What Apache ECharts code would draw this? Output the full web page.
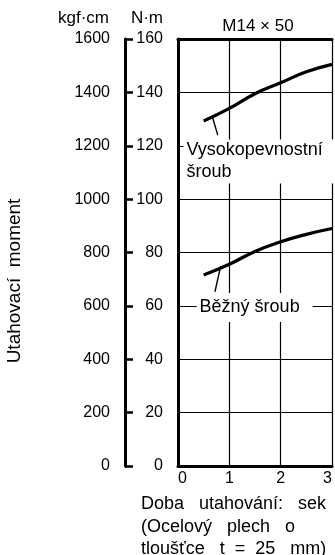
<!DOCTYPE html>
<html>
<head>
<meta charset="utf-8">
<script src="https://cdn.jsdelivr.net/npm/echarts@6/dist/echarts.min.js"></script>
<style>
  html, body { margin: 0; padding: 0; background: #fff; }
  #chart { width: 335px; height: 555px; }
</style>
</head>
<body>
<div id="chart"></div>
<script>
const FONT = '"Liberation Sans", Arial, Helvetica, sans-serif';

// Tightening time (s) and torque (N·m) of an M14 × 50 bolt
const timeSec = [0.5, 1, 1.5, 2, 2.5, 3];
const highStrengthNm = [129.3, 134.0, 139.5, 143.6, 147.7, 150.5];
const ordinaryNm = [71.6, 75.6, 80.4, 84.0, 86.8, 89.0];

// Axis ticks
const timeTicks = [0, 1, 2, 3];
const nmTicks = [0, 20, 40, 60, 80, 100, 120, 140, 160];
const kgfTicks = [0, 200, 400, 600, 800, 1000, 1200, 1400, 1600];

// Curve labels: anchor (time, N·m) and leader line from curve to label
const highLabel = 'Vysokopevnostní\nšroub';
const highLabelAt = [0.105, 114.1];
const highLeader = [[0.67, 130.8], [0.775, 124.0]];
const ordinaryLabel = 'Běžný šroub';
const ordinaryLabelAt = [0.362, 59.4];
const ordinaryLeader = [[0.83, 74.8], [0.72, 65.3]];

const pairs = (xs, ys) => xs.map((x, i) => [x, ys[i]]);
const step = t => t[1] - t[0];
const plain = v => String(v);
const black = '#000';

const chart = echarts.init(document.getElementById('chart'), null, { renderer: 'canvas' });

chart.setOption({
  animation: false,
  backgroundColor: '#fff',
  textStyle: { fontFamily: FONT, color: black },
  grid: { left: 178, top: 39, right: 0, bottom: 89, containLabel: false },
  xAxis: [
    {
      type: 'value',
      min: timeTicks[0], max: timeTicks[timeTicks.length - 1], interval: step(timeTicks),
      axisLine: { onZero: false, lineStyle: { color: black, width: 3 } },
      axisTick: { show: false },
      axisLabel: {
        color: black, fontSize: 16, fontFamily: FONT, margin: 5,
        alignMinLabel: 'left', alignMaxLabel: 'right', formatter: plain
      },
      splitLine: { show: true, lineStyle: { color: black, width: 1.2 } }
    },
    {
      type: 'value', position: 'top',
      min: timeTicks[0], max: timeTicks[timeTicks.length - 1], interval: step(timeTicks),
      axisLine: { show: true, onZero: false, lineStyle: { color: black, width: 3 } },
      axisTick: { show: false }, axisLabel: { show: false }, splitLine: { show: false }
    }
  ],
  yAxis: [
    {
      type: 'value', position: 'left',
      min: nmTicks[0], max: nmTicks[nmTicks.length - 1], interval: step(nmTicks),
      axisLine: { show: true, onZero: false, lineStyle: { color: black, width: 3 } },
      axisTick: { show: false },
      axisLabel: { color: black, fontSize: 16, fontFamily: FONT, margin: 15, formatter: plain },
      splitLine: { show: true, lineStyle: { color: black, width: 1.2 } }
    },
    {
      type: 'value', position: 'left', offset: 53,
      min: kgfTicks[0], max: kgfTicks[kgfTicks.length - 1], interval: step(kgfTicks),
      axisLine: { show: true, onZero: false, lineStyle: { color: black, width: 3 } },
      axisTick: { show: true, inside: true, length: 8, lineStyle: { color: black, width: 2.5 } },
      axisLabel: { color: black, fontSize: 16, fontFamily: FONT, margin: 15, formatter: plain },
      splitLine: { show: false }
    }
  ],
  series: [
    {
      name: 'Vysokopevnostní šroub', type: 'line', yAxisIndex: 0,
      data: pairs(timeSec, highStrengthNm), smooth: true, symbol: 'none',
      lineStyle: { color: black, width: 3.2 }, z: 3
    },
    {
      name: 'Běžný šroub', type: 'line', yAxisIndex: 0,
      data: pairs(timeSec, ordinaryNm), smooth: true, symbol: 'none',
      lineStyle: { color: black, width: 3.2 }, z: 3
    },
    {
      type: 'line', data: highLeader, symbol: 'none',
      lineStyle: { color: black, width: 1.4 }, z: 3
    },
    {
      type: 'line', data: ordinaryLeader, symbol: 'none',
      lineStyle: { color: black, width: 1.4 }, z: 3
    },
    {
      type: 'scatter', symbolSize: 0, z: 4,
      itemStyle: { color: black, opacity: 1 },
      data: [
        { value: highLabelAt, label: { formatter: highLabel, lineHeight: 22, padding: [0, 16, 0, 3] } },
        { value: ordinaryLabelAt, label: { formatter: ordinaryLabel, lineHeight: 21, padding: [4, 13, 4, 3] } }
      ],
      label: {
        show: true, position: 'right', distance: 0,
        align: 'left', verticalAlign: 'middle',
        color: black, opacity: 1, textBorderWidth: 0,
        fontSize: 18, fontFamily: FONT,
        backgroundColor: '#fff'
      },
      emphasis: { disabled: true },
      silent: true
    }
  ],
  graphic: [
    {
      type: 'text', x: 258, y: 26,
      style: { text: 'M14 × 50', fontSize: 17, fontFamily: FONT, fill: black, align: 'center', verticalAlign: 'middle' }
    },
    {
      type: 'text', x: 109, y: 18,
      style: { text: 'kgf·cm', fontSize: 17, fontFamily: FONT, fill: black, align: 'right', verticalAlign: 'middle' }
    },
    {
      type: 'text', x: 163, y: 18,
      style: { text: 'N·m', fontSize: 17, fontFamily: FONT, fill: black, align: 'right', verticalAlign: 'middle' }
    },
    {
      type: 'text', x: 15, y: 281, rotation: Math.PI / 2,
      style: { text: 'Utahovací  moment', fontSize: 19, fontFamily: FONT, fill: black, align: 'center', verticalAlign: 'middle' }
    },
    {
      type: 'text', x: 141, y: 527,
      style: {
        text: 'Doba   utahování:   sek\n(Ocelový   plech   o\ntloušťce   t  =  25   mm)',
        fontSize: 18, lineHeight: 22.5, fontFamily: FONT, fill: black, align: 'left', verticalAlign: 'middle'
      }
    }
  ]
});
</script>
</body>
</html>
